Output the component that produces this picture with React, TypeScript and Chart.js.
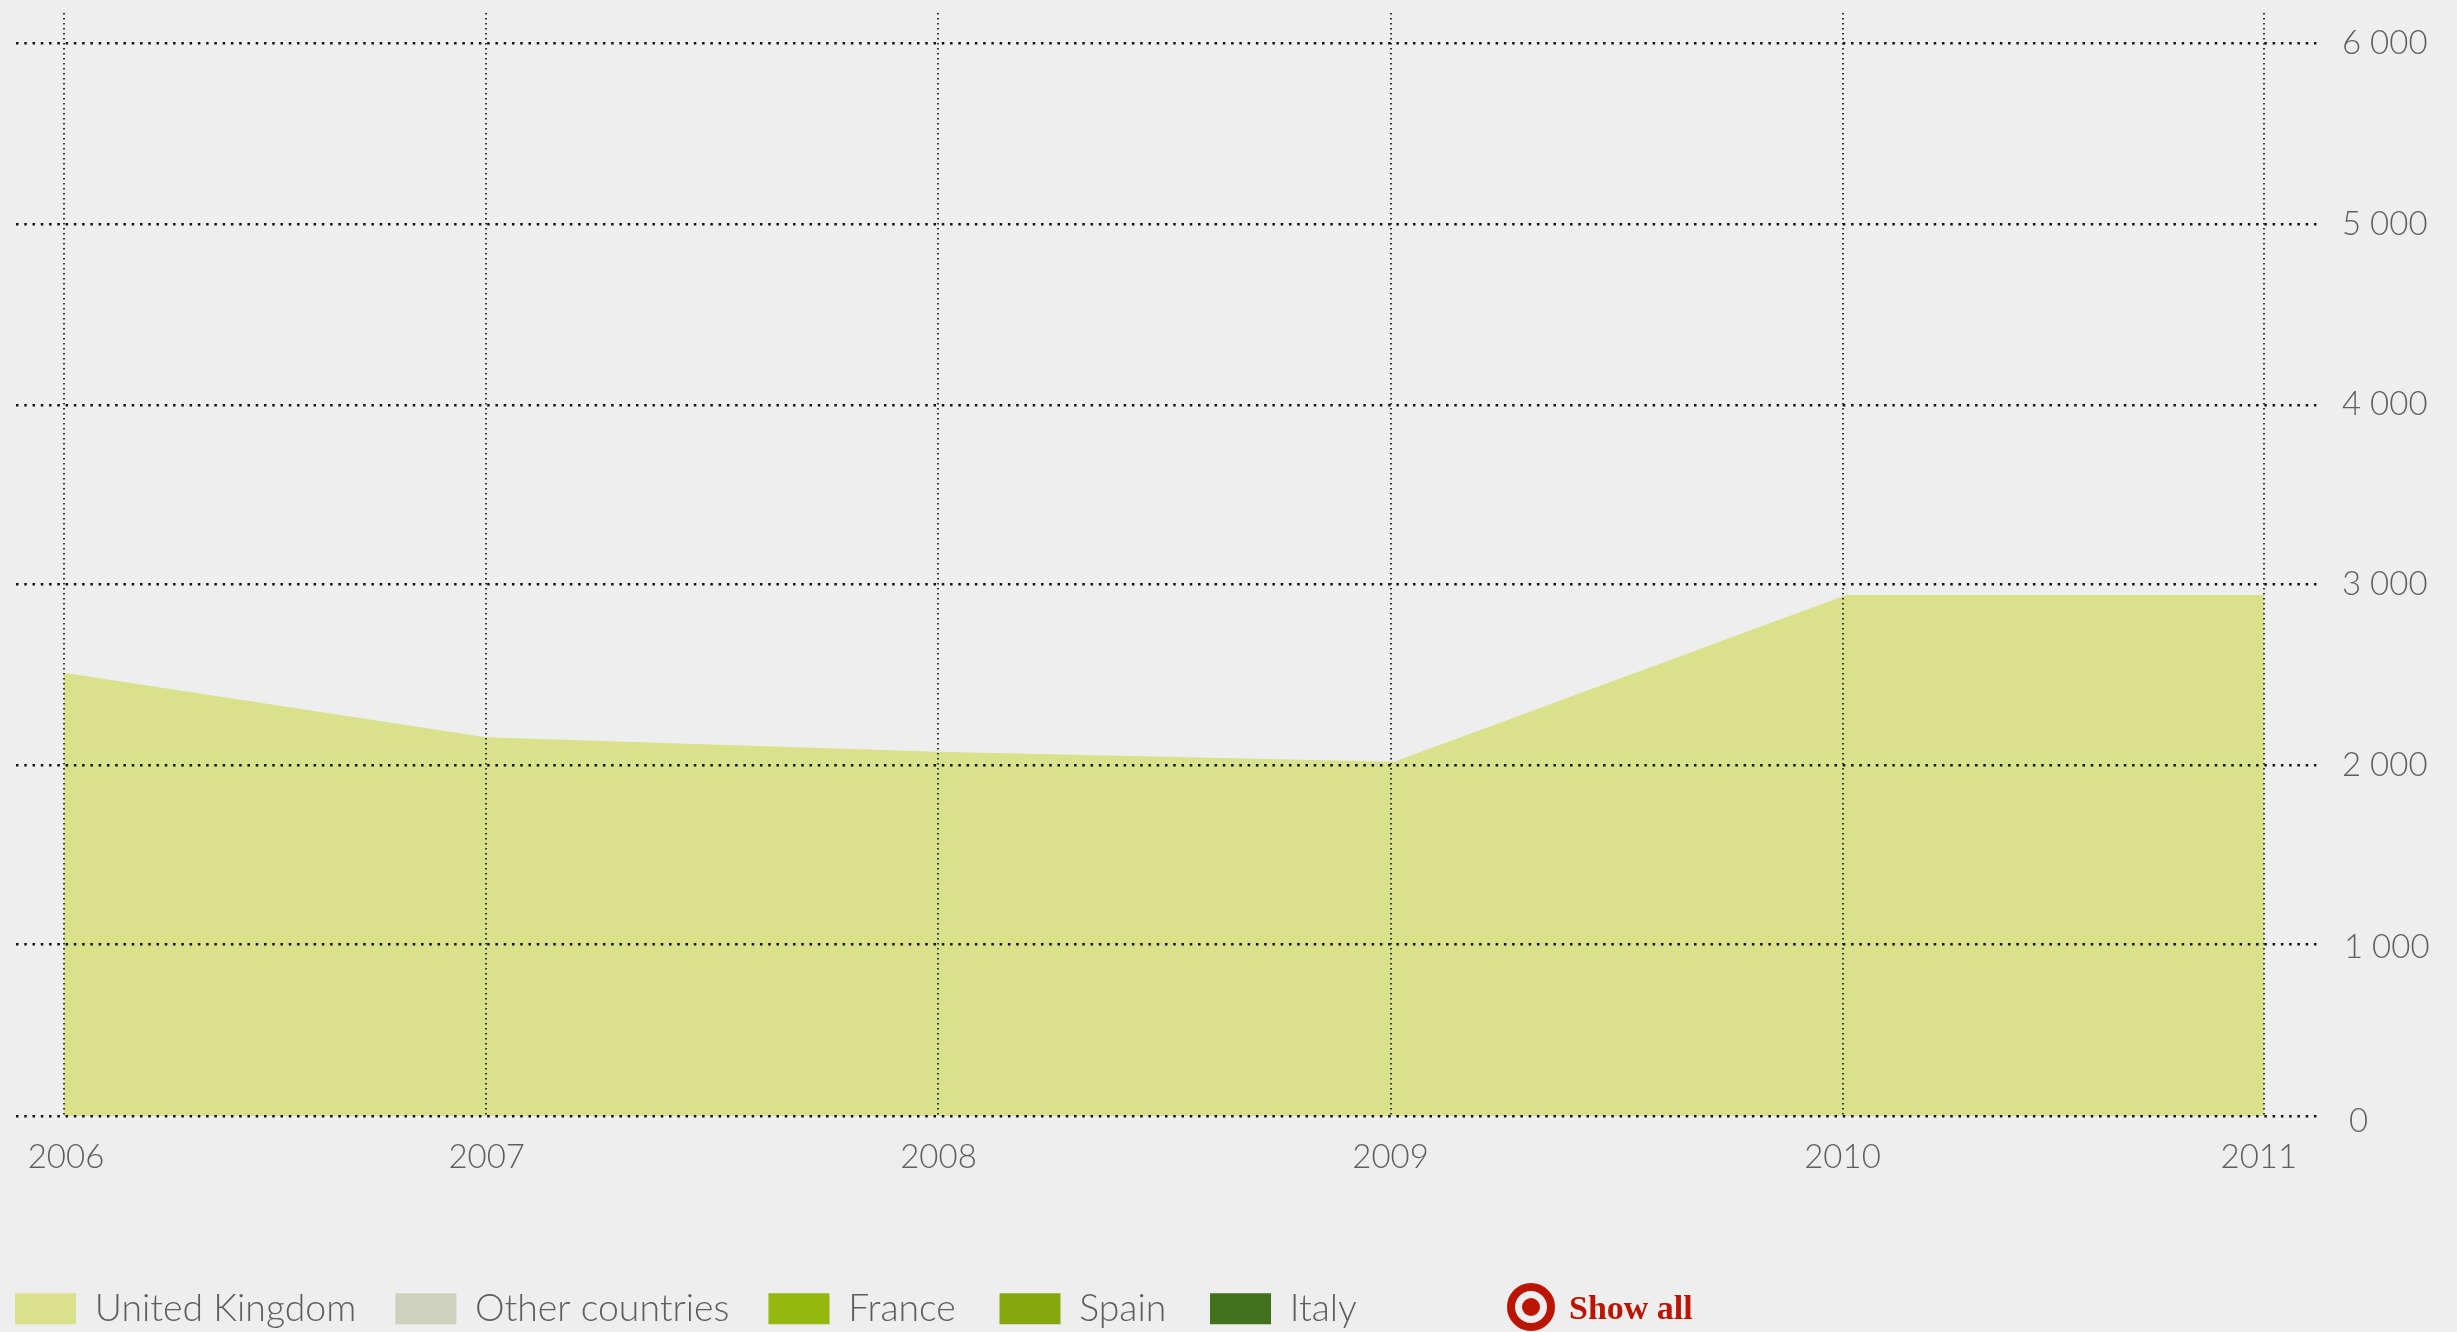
import React, { useEffect, useRef } from "react";
import { Chart, LinearScale, registerables } from "chart.js";

const BACKGROUND = "#eeeeee";
const TEXT = "#5e5e5e";
const RED = "#bb1400";

// Series (only the first one is switched on in the chart)
const yearTicks = [2006, 2007, 2008, 2009, 2010, 2011];
const ukYears = [2006, 2007, 2008, 2009.008, 2010.009, 2011];
const ukValues = [2512, 2155, 2075, 2020, 2941, 2941];
const valueTicks = [0, 1000, 2000, 3000, 4000, 5000, 6000];
const seriesNames = ["United Kingdom", "Other countries", "France", "Spain", "Italy"];
const seriesColors = ["#d9e18a", "#cdd1bd", "#95b80e", "#88a70c", "#41711d"];
const legendWiderNames = ["France", "Spain"];

// Where the reference's axes place their ticks: they are not evenly spaced
const yearPixels = [64, 485.7, 937.5, 1390.6, 1842.5, 2264.3];
const valuePixels = [1116, 944.3, 765.3, 584.3, 405.3, 224.7, 43.3];
const yearLabelShiftX = [2, 1, 1, 0, 0, -5.5];
const yearLabelShiftY = [-1.5, -1.5, -1.5, -1.5, -1.5, -1.5];
const valueLabelShiftX = [6, 1, -1, -1, -1, -1, -1];
const valueLabelShiftY = [5.5, 3.2, 0.2, 0.2, -1.1, -0.7, 0.2];

function interpolate(v: number, from: number[], to: number[]) {
  const asc = from[1] > from[0];
  let i = 0;
  while (i < from.length - 2 && (asc ? v > from[i + 1] : v < from[i + 1])) i++;
  return to[i] + ((v - from[i]) * (to[i + 1] - to[i])) / (from[i + 1] - from[i]);
}

class AnchoredScale extends LinearScale {
  static id = "anchored";
  static defaults = LinearScale.defaults;
  getPixelForValue(value: number) {
    const o: any = this.options;
    return interpolate(value, o.anchorValues, o.anchorPixels);
  }
  getValueForPixel(pixel: number) {
    const o: any = this.options;
    return interpolate(pixel, o.anchorPixels, o.anchorValues);
  }
  getPadding() {
    return { left: 0, top: 0, right: 0, bottom: 0 };
  }
  _computeLabelItems(area: any) {
    const items = (LinearScale.prototype as any)._computeLabelItems.call(this, area);
    const o: any = this.options;
    items.forEach((item: any, i: number) => {
      item.options.translation = [
        item.options.translation[0] + (o.labelShiftX?.[i] ?? 0),
        item.options.translation[1] + (o.labelShiftY?.[i] ?? 0),
      ];
    });
    return items;
  }
}

Chart.register(...registerables, AnchoredScale as any);

const placeLegend = {
  id: "placeLegend",
  afterLayout(chart: any) {
    chart.legend.left = -24;
    chart.legend.top = 1290 - 39;
  },
};

const showAll = {
  id: "showAll",
  afterDraw(chart: any) {
    const ctx = chart.ctx;
    ctx.save();
    ctx.strokeStyle = RED;
    ctx.fillStyle = RED;
    ctx.lineWidth = 8;
    ctx.beginPath();
    ctx.arc(1531, 1307, 20, 0, Math.PI * 2);
    ctx.stroke();
    ctx.beginPath();
    ctx.arc(1531, 1307, 9, 0, Math.PI * 2);
    ctx.fill();
    ctx.font = "bold 34px 'Liberation Serif'";
    ctx.textBaseline = "alphabetic";
    ctx.textAlign = "left";
    ctx.fillText("Show all", 1569, 1319);
    ctx.restore();
  },
};

export default function App() {
  const ref = useRef<HTMLCanvasElement>(null);
  useEffect(() => {
    document.body.style.margin = "0";
    document.body.style.background = BACKGROUND;
    const chart = new Chart(ref.current as HTMLCanvasElement, {
      type: "line",
      data: {
        datasets: seriesNames.map((name, i) => ({
          label: name,
          data: i === 0 ? ukYears.map((x, j) => ({ x, y: ukValues[j] })) : [],
          backgroundColor: seriesColors[i],
          borderColor: seriesColors[i],
          borderWidth: 0,
          pointRadius: 0,
          tension: 0,
          fill: "origin",
        })),
      },
      options: {
        responsive: false,
        animation: false,
        layout: { padding: { left: 16, top: 13, right: 0, bottom: 0 } },
        plugins: {
          tooltip: { enabled: false },
          legend: {
            position: "bottom",
            align: "start",
            labels: {
              boxWidth: 61,
              boxHeight: 31,
              padding: 39,
              color: TEXT,
              font: { family: "Lato", size: 37.4, weight: "300" },
              generateLabels: (c: any) =>
                Chart.defaults.plugins.legend.labels.generateLabels(c).map((item: any) => ({
                  ...item,
                  text: legendWiderNames.includes(item.text) ? item.text + "\u2009" : item.text,
                })),
            },
          },
        },
        scales: {
          x: {
            type: "anchored",
            min: 2005.9,
            max: 2011.12,
            anchorValues: yearTicks,
            anchorPixels: yearPixels,
            labelShiftX: yearLabelShiftX,
            labelShiftY: yearLabelShiftY,
            afterBuildTicks: (s: any) => {
              s.ticks = yearTicks.map((value) => ({ value }));
            },
            afterFit: (s: any) => {
              s.height = 1332 - 1117.5 - s.chart.legend.height;
            },
            ticks: {
              autoSkip: false,
              maxRotation: 0,
              padding: 22,
              color: TEXT,
              font: { family: "Lato", size: 33, weight: "300" },
              callback: (v: any) => String(v),
            },
            grid: { z: 1, color: "#333333", lineWidth: 2, drawTicks: false },
            border: { display: false, dash: [1.5, 3.5] },
          } as any,
          y: {
            type: "anchored",
            position: "right",
            min: 0,
            max: 6000,
            anchorValues: valueTicks,
            anchorPixels: valuePixels,
            labelShiftX: valueLabelShiftX,
            labelShiftY: valueLabelShiftY,
            afterBuildTicks: (s: any) => {
              s.ticks = valueTicks.map((value) => ({ value }));
            },
            afterFit: (s: any) => {
              s.width = 2457 - 2317.5;
            },
            ticks: {
              autoSkip: false,
              padding: 25.5,
              color: TEXT,
              font: { family: "Lato", size: 33, weight: "300" },
              callback: (v: any) => String(v).replace(/\B(?=(\d{3})+$)/, " "),
            },
            grid: { z: 1, color: "#111111", lineWidth: 2.5, drawTicks: false },
            border: { display: false, dash: [2.5, 5.766] },
          } as any,
        },
      },
      plugins: [placeLegend, showAll],
    });
    return () => chart.destroy();
  }, []);
  return <canvas ref={ref} width={2457} height={1332} style={{ display: "block" }} />;
}
